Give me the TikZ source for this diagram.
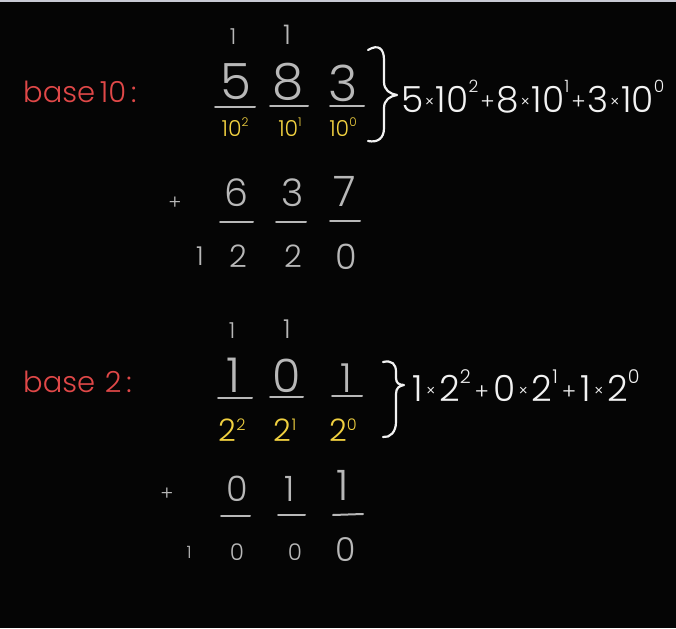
\documentclass[tikz,border=0pt]{standalone}
\usepackage{fontspec}
\setmainfont{Poppins}[UprightFont={* Light}]
\definecolor{bg}{HTML}{050505}
\definecolor{topbar}{HTML}{C8CAD4}
\definecolor{chalk}{HTML}{B8B8B8}
\definecolor{chalkw}{HTML}{F2F2F2}
\definecolor{chalky}{HTML}{F0D040}
\definecolor{chalkr}{HTML}{E04848}
\newcommand\fs[1]{\fontsize{#1}{#1}\selectfont}
\newcommand\tms{\hspace{1.5pt}\raisebox{0.14em}{\fs{16}×}\hspace{1.5pt}}
\newcommand\pls{\hspace{2pt}\raisebox{0.08em}{\fs{22}+}\hspace{2pt}}
\newcommand\sps[1]{\raisebox{0.55em}{\fs{17}#1}}
\newcommand\tmsb{\hspace{3.5pt}\raisebox{0.14em}{\fs{16}×}\hspace{3.5pt}}
\newcommand\plsb{\hspace{4pt}\raisebox{0.08em}{\fs{22}+}\hspace{4pt}}
\newcommand\spsb[1]{\raisebox{0.5em}{\fs{19}#1}}
\tikzset{
  dig/.style={text=chalk, font=\fs{50}, inner sep=0pt},
  dsm/.style={text=chalk, font=\fs{38}, inner sep=0pt},
  carry/.style={text=chalk, font=\fs{22}, inner sep=0pt},
  plus/.style={text=chalk, font=\fs{20}, inner sep=0pt},
  lbl/.style={text=chalky, font=\fs{22}, inner sep=0pt},
  redlbl/.style={text=chalkr, font=\fs{29}, inner sep=0pt, anchor=west},
  expr/.style={text=chalkw, font=\fs{36}, inner sep=0pt, anchor=west},
  bar/.style={draw=chalk, line width=2pt, line cap=round},
  brace/.style={draw=chalkw, line width=2.2pt, line cap=round, line join=round}
}
\begin{document}
\begin{tikzpicture}[x=1pt,y=-1pt]
\fill[bg] (0,0) rectangle (676,628);
\fill[topbar] (0,0) rectangle (676,2.5);
\useasboundingbox (0,0) rectangle (676,628);

% ---------- base 10 ----------
\node[redlbl] (b10) at (23,92) {base\,10\,:};
\node[carry] (c1) at (233,37) {1};
\node[carry, font=\fs{27}] (c2) at (287,35) {1};
\node[dig] (d5) at (236,82) {5};
\node[dig] (d8) at (288,82) {8};
\node[dig] (d3) at (343,83) {3};
\coordinate (l1a) at (215,107); \coordinate (l1b) at (255,107);
\coordinate (l2a) at (270,106); \coordinate (l2b) at (308,106);
\coordinate (l3a) at (330,106); \coordinate (l3b) at (364,106);
\draw[bar] (l1a) -- (l1b);
\draw[bar] (l2a) -- (l2b);
\draw[bar] (l3a) -- (l3b);
\node[lbl] (p2) at (235,127) {10\raisebox{0.45em}{\fs{12}2}};
\node[lbl] (p1) at (290,127) {10\raisebox{0.45em}{\fs{12}1}};
\node[lbl] (p0) at (343,127) {10\raisebox{0.45em}{\fs{12}0}};
\coordinate (br1t) at (368,50);
\coordinate (br1m) at (397,95);
\coordinate (br1b) at (368,141);
\draw[brace] (br1t) .. controls (378,44) and (384,48) .. (384,60)
  -- (384,82) .. controls (384,90) and (390,94) .. (br1m)
  .. controls (390,96) and (384,100) .. (384,108) -- (384,128)
  .. controls (384,138) and (378,143) .. (br1b);
\node[expr] (e10) at (401,97) {5\tms10\sps{2}\pls8\tms10\sps{1}\pls3\tms10\sps{0}};

% ---------- addition 583 + 637 ----------
\node[plus] (pl1) at (175,203) {+};
\node[dsm] (d6) at (236,193) {6};
\node[dsm] (d3b) at (293,193) {3};
\node[dsm, font=\fs{42}] (d7) at (345,191) {7};
\coordinate (m1a) at (220,222); \coordinate (m1b) at (253,222);
\coordinate (m2a) at (276,222); \coordinate (m2b) at (306,222);
\coordinate (m3a) at (330,221); \coordinate (m3b) at (360,221);
\draw[bar] (m1a) -- (m1b);
\draw[bar] (m2a) -- (m2b);
\draw[bar] (m3a) -- (m3b);
\node[dsm, font=\fs{26}] (s1) at (200,256) {1};
\node[dsm, font=\fs{31}] (s2) at (238,256) {2};
\node[dsm, font=\fs{31}] (s3) at (293,256) {2};
\node[dsm, font=\fs{35}] (s4) at (346,257) {0};

% ---------- base 2 ----------
\node[redlbl] (b2) at (23,382) {base\,\,2\,:};
\node[carry] (c3) at (232,331) {1};
\node[carry, font=\fs{26}] (c4) at (287,329) {1};
\node[dig, font=\fs{48}] (e1) at (234,375) {1};
\node[dig, font=\fs{46}] (e0) at (287,376) {0};
\node[dig, font=\fs{40}] (e1b) at (346,378) {1};
\coordinate (n1a) at (218,398); \coordinate (n1b) at (252,398);
\coordinate (n2a) at (270,397); \coordinate (n2b) at (303,397);
\coordinate (n3a) at (332,396); \coordinate (n3b) at (362,396);
\draw[bar] (n1a) -- (n1b);
\draw[bar] (n2a) -- (n2b);
\draw[bar] (n3a) -- (n3b);
\node[lbl, font=\fs{31}] (q2) at (232,430) {2\raisebox{0.35em}{\fs{16}2}};
\node[lbl, font=\fs{31}] (q1) at (285,430) {2\raisebox{0.35em}{\fs{16}1}};
\node[lbl, font=\fs{31}] (q0) at (343,430) {2\raisebox{0.35em}{\fs{16}0}};
\coordinate (br2t) at (383,362);
\coordinate (br2m) at (404,385);
\coordinate (br2b) at (383,437);
\draw[brace] (br2t) .. controls (392,360) and (396,364) .. (396,372)
  -- (396,378) .. controls (396,383) and (399,385) .. (br2m)
  .. controls (399,386) and (396,388) .. (396,394) -- (396,422)
  .. controls (396,432) and (390,438) .. (br2b);
\node[expr] (e2) at (412,386) {1\tmsb2\spsb{2}\plsb0\tmsb2\spsb{1}\plsb1\tmsb2\spsb{0}};

% ---------- addition 101 + 011 ----------
\node[plus] (pl2) at (167,494) {+};
\node[dsm, font=\fs{35}] (f0) at (237,489) {0};
\node[dsm, font=\fs{35}] (f1) at (290,489) {1};
\node[dsm, font=\fs{42}] (f1b) at (343,485) {1};
\coordinate (o1a) at (221,516); \coordinate (o1b) at (250,516);
\coordinate (o2a) at (278,515); \coordinate (o2b) at (305,515);
\coordinate (o3a) at (333,515); \coordinate (o3b) at (363,514);
\draw[bar] (o1a) -- (o1b);
\draw[bar] (o2a) -- (o2b);
\draw[bar] (o3a) -- (o3b);
\node[dsm, font=\fs{17}] (t1) at (189,552) {1};
\node[dsm, font=\fs{23}] (t2) at (237,552) {0};
\node[dsm, font=\fs{23}] (t3) at (295,552) {0};
\node[dsm, font=\fs{33}] (t4) at (346,550) {0};
\end{tikzpicture}
\end{document}
